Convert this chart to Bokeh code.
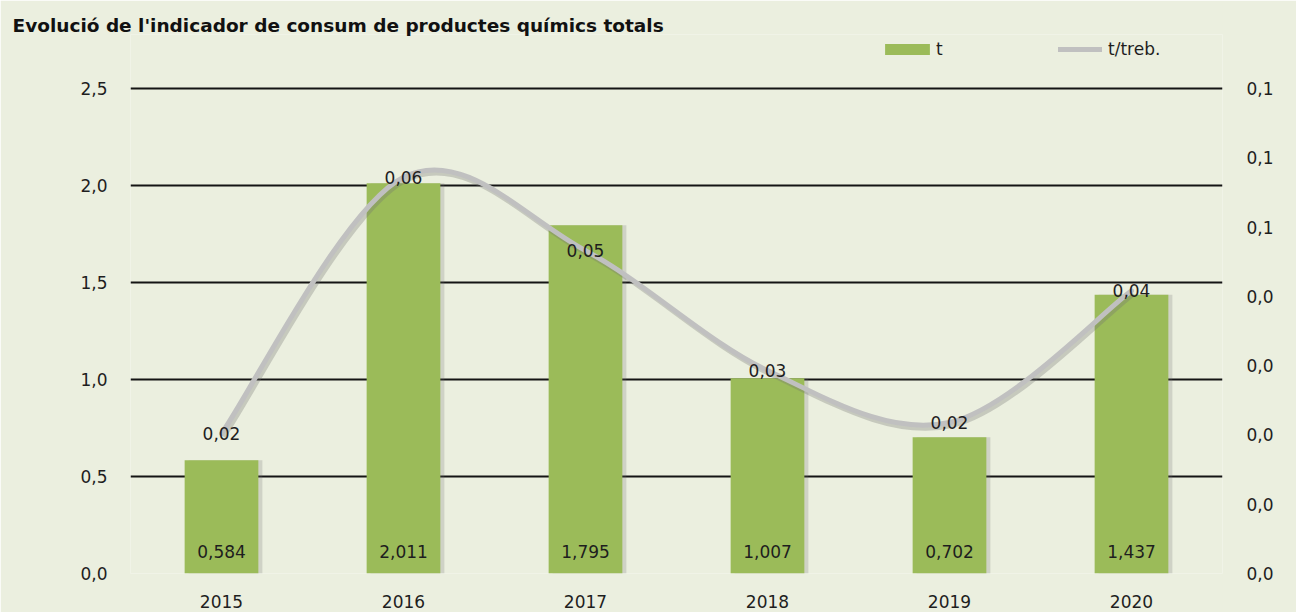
import numpy as np
from bokeh.plotting import figure
from bokeh.models import (Range1d, LinearAxis, FixedTicker, CustomJSTickFormatter,
                          ColumnDataSource, Legend, LegendItem, Dodge)
from bokeh.core.properties import value, field
from bokeh.embed import file_html
from bokeh.resources import INLINE

# ---------------- data ----------------
title_text = "Evolució de l'indicador de consum de productes químics totals"
years = ["2015", "2016", "2017", "2018", "2019", "2020"]
tones = [0.584, 2.011, 1.795, 1.007, 0.702, 1.437]              # t (left axis)
t_per_worker = [0.0202, 0.0572, 0.0466, 0.0293, 0.0218, 0.0408]  # t/treb. (right axis)
left_ticks = [0.0, 0.5, 1.0, 1.5, 2.0, 2.5]
right_ticks = [0.0, 0.01, 0.02, 0.03, 0.04, 0.05, 0.06, 0.07]
series_names = ["t", "t/treb."]

# ---------------- styles ----------------
BG = "#EBEFDF"
BAR = "#9BBB59"
LINE = "#C0C0C0"
TXT = "#1E1E1E"
FONT = "DejaVu Sans"
FS = "17px"

W, H = 1296, 612
B_LEFT, B_RIGHT, B_TOP, B_BOTTOM = 130, 74, 34, 39
FRAME_H = H - B_TOP - B_BOTTOM
TOP_PX = 88 - B_TOP          # px from frame top to the 2.5 / 0.07 level
scale = FRAME_H / (FRAME_H - TOP_PX)

n = len(years)
xc = np.arange(n) + 0.5

bar_src = ColumnDataSource(dict(
    x=xc, top=tones,
    lab=[f"{v:.3f}".replace(".", ",") for v in tones]))

# smoothed line (Excel-like): cubic Bezier segments through the data points
py = np.array(t_per_worker)
PX = np.concatenate([[xc[0]], xc, [xc[-1]]])
PY = np.concatenate([[py[0]], py, [py[-1]]])
i = np.arange(n - 1)
bz = dict(
    x0=PX[i + 1], y0=PY[i + 1], x1=PX[i + 2], y1=PY[i + 2],
    cx0=PX[i + 1] + (PX[i + 2] - PX[i]) / 6.0, cy0=PY[i + 1] + (PY[i + 2] - PY[i]) / 6.0,
    cx1=PX[i + 2] - (PX[i + 3] - PX[i + 1]) / 6.0, cy1=PY[i + 2] - (PY[i + 3] - PY[i + 1]) / 6.0,
)
bz_src = ColumnDataSource(bz)
pt_src = ColumnDataSource(dict(
    x=xc, y=t_per_worker,
    lab=[f"{v:.2f}".replace(".", ",") for v in t_per_worker]))

p = figure(width=W, height=H,
           x_range=Range1d(0, n), y_range=Range1d(0, left_ticks[-1] * scale),
           output_backend="svg", toolbar_location=None,
           min_border_left=B_LEFT, min_border_right=B_RIGHT,
           min_border_top=B_TOP, min_border_bottom=B_BOTTOM)
p.extra_y_ranges = {"r": Range1d(0, right_ticks[-1] * scale)}

p.title.text = title_text
p.title.align = "left"
p.title.offset = 12 - B_LEFT
p.title.standoff = -2
p.title.text_font = FONT
p.title.text_font_size = "18.5px"
p.title.text_font_style = "bold"
p.title.text_color = "#111111"

p.background_fill_color = BG
p.border_fill_color = BG
p.outline_line_color = None
p.xgrid.grid_line_color = None

fmt1 = CustomJSTickFormatter(code="return tick.toFixed(1).replace('.', ',');")

# left axis
ya = p.yaxis[0]
ya.ticker = FixedTicker(ticks=left_ticks)
ya.formatter = fmt1
p.ygrid[0].ticker = FixedTicker(ticks=left_ticks)
p.ygrid.grid_line_color = "#141414"
p.ygrid.grid_line_width = 2

# right axis
ra = LinearAxis(y_range_name="r", ticker=FixedTicker(ticks=right_ticks), formatter=fmt1)
p.add_layout(ra, "right")

# bottom axis
xa = p.xaxis[0]
xa.ticker = FixedTicker(ticks=list(xc))
xa.major_label_overrides = {float(v): y for v, y in zip(xc, years)}

for ax in (ya, ra, xa):
    ax.axis_line_color = None
    ax.major_tick_line_color = None
    ax.minor_tick_line_color = None
    ax.major_label_text_font = FONT
    ax.major_label_text_font_size = FS
    ax.major_label_text_color = TXT
ya.major_label_standoff = 17
ra.major_label_standoff = 18
xa.major_label_standoff = 15

# bar shadow + bars
p.vbar(x=field("x", transform=Dodge(value=0.022)), top="top", width=0.405, bottom=0,
       source=bar_src, fill_color="#6F6F6F", fill_alpha=0.22, line_color=None)
bars = p.vbar(x="x", top="top", width=0.405, bottom=0, source=bar_src,
              fill_color=BAR, line_color=None)

# line shadow + line
dxs, dys = 0.011, -0.00044
p.bezier(x0=field("x0", transform=Dodge(value=dxs)), y0=field("y0", transform=Dodge(value=dys)),
         x1=field("x1", transform=Dodge(value=dxs)), y1=field("y1", transform=Dodge(value=dys)),
         cx0=field("cx0", transform=Dodge(value=dxs)), cy0=field("cy0", transform=Dodge(value=dys)),
         cx1=field("cx1", transform=Dodge(value=dxs)), cy1=field("cy1", transform=Dodge(value=dys)),
         source=bz_src, y_range_name="r", line_color="#6F6F6F", line_alpha=0.3, line_width=5)
line = p.bezier(x0="x0", y0="y0", x1="x1", y1="y1", cx0="cx0", cy0="cy0", cx1="cx1", cy1="cy1",
                source=bz_src, y_range_name="r", line_color=LINE, line_width=5,
                line_cap="round")

# data labels
p.text(x="x", y=0, text="lab", source=bar_src, y_offset=-22,
       text_font=value(FONT), text_font_size=FS, text_color=TXT,
       text_align="center", text_baseline="middle")
p.text(x="x", y="y", text="lab", source=pt_src, y_range_name="r", y_offset=0,
       text_font=value(FONT), text_font_size=FS, text_color=TXT,
       text_align="center", text_baseline="middle")

# legends
legend_specs = ((bars, series_names[0], (749, 514), 56, 14, 1),
                (line, series_names[1], (928, 514), 44, 10, 6))
for rend, name, loc, gw, gh, so in legend_specs:
    lg = Legend(items=[LegendItem(label=name, renderers=[rend])], location=loc,
                orientation="horizontal", glyph_width=gw, glyph_height=gh,
                label_height=10, label_standoff=so, padding=0, margin=0,
                border_line_color=None, background_fill_alpha=0,
                label_text_font=FONT, label_text_font_size=FS, label_text_color=TXT)
    p.add_layout(lg, "center")

open("out.html", "w").write(file_html(p, INLINE))
